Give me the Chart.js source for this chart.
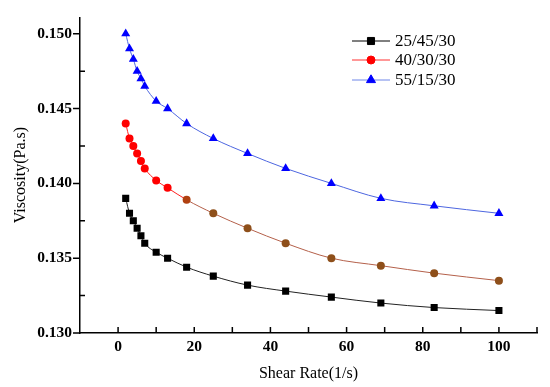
<!DOCTYPE html>
<html>
<head>
<meta charset="utf-8">
<script src="https://cdn.jsdelivr.net/npm/chart.js@4/dist/chart.umd.min.js"></script>
<style>
html,body{margin:0;padding:0;background:#fff;}
#wrap{width:550px;height:387px;}
</style>
</head>
<body>
<div id="wrap"><canvas id="c" width="550" height="387"></canvas></div>
<script>
const shearRate = [2, 3, 4, 5, 6, 7, 10, 13, 18, 25, 34, 44, 56, 69, 83, 100];
const visc_25_45_30 = [0.1390, 0.1380, 0.1375, 0.1370, 0.1365, 0.1360, 0.1354, 0.1350, 0.1344, 0.1338, 0.1332, 0.1328, 0.1324, 0.1320, 0.1317, 0.1315];
const visc_40_30_30 = [0.1440, 0.1430, 0.1425, 0.1420, 0.1415, 0.1410, 0.1402, 0.1397, 0.1389, 0.1380, 0.1370, 0.1360, 0.1350, 0.1345, 0.1340, 0.1335];
const visc_55_15_30 = [0.1500, 0.1490, 0.1483, 0.1475, 0.1470, 0.1465, 0.1455, 0.1450, 0.1440, 0.1430, 0.1420, 0.1410, 0.1400, 0.1390, 0.1385, 0.1380];
const seriesNames = ['25/45/30', '40/30/30', '55/15/30'];
const xMajorTicks = [0, 20, 40, 60, 80, 100];
const xMinorTicks = [10, 30, 50, 70, 90, 110];
const yMajorTicks = [0.130, 0.135, 0.140, 0.145, 0.150];
const yMinorTicks = [0.1325, 0.1375, 0.1425, 0.1475];

const serif = "'Liberation Serif', 'Times New Roman', serif";
const toXY = (ys) => shearRate.map((x, i) => ({x: x, y: ys[i]}));

const redPointColors = shearRate.map((x) => x <= 13 ? '#ff0000' : (x === 18 ? '#b04010' : '#8e4f1a'));

const axisTicks = {
  id: 'axisTicks',
  afterDraw(chart) {
    const ctx = chart.ctx;
    const xs = chart.scales.x, ys = chart.scales.y;
    const area = chart.chartArea;
    ctx.save();
    ctx.strokeStyle = '#000';
    ctx.lineWidth = 1.5;
    ctx.beginPath();
    xMajorTicks.concat(xMinorTicks).forEach(v => {
      const px = xs.getPixelForValue(v);
      if (px > area.left + 2 && px <= area.right + 1) {
        ctx.moveTo(px, area.bottom);
        ctx.lineTo(px, area.bottom - 6);
      }
    });
    yMajorTicks.forEach(v => {
      const py = ys.getPixelForValue(v);
      ctx.moveTo(area.left, py);
      ctx.lineTo(area.left - 7, py);
    });
    yMinorTicks.forEach(v => {
      const py = ys.getPixelForValue(v);
      ctx.moveTo(area.left, py);
      ctx.lineTo(area.left + 5, py);
    });
    ctx.stroke();

    // legend
    const rows = [41, 60, 80];
    chart.data.datasets.forEach((ds, i) => {
      const y = rows[i];
      ctx.strokeStyle = ds.legendLine;
      ctx.lineWidth = 1;
      ctx.beginPath();
      ctx.moveTo(352, y);
      ctx.lineTo(390, y);
      ctx.stroke();
      ctx.fillStyle = ds.legendMarker;
      ctx.strokeStyle = ds.legendMarker;
      Chart.helpers.drawPoint(ctx, {pointStyle: ds.pointStyle, radius: ds.pointRadius, borderWidth: 1, rotation: 0}, 371, y);
      ctx.fillStyle = '#000';
      ctx.font = "17px " + serif;
      ctx.textBaseline = 'middle';
      ctx.textAlign = 'left';
      ctx.fillText(ds.label, 395, y + 1);
    });
    ctx.restore();
  }
};

new Chart(document.getElementById('c'), {
  type: 'line',
  data: {
    datasets: [
      {
        label: seriesNames[0],
        data: toXY(visc_25_45_30),
        borderColor: '#222222',
        borderWidth: 1,
        backgroundColor: '#000',
        pointBackgroundColor: '#000',
        pointBorderColor: '#000',
        pointStyle: 'rect',
        pointRadius: 5,
        pointBorderWidth: 0,
        cubicInterpolationMode: 'monotone',
        legendLine: '#000', legendMarker: '#000'
      },
      {
        label: seriesNames[1],
        data: toXY(visc_40_30_30),
        borderColor: '#ff2020',
        borderWidth: 1,
        segment: {
          borderColor: (c) => c.p0DataIndex >= 8 ? '#b4604a' : '#ff2020'
        },
        pointBackgroundColor: redPointColors,
        pointBorderColor: redPointColors,
        pointStyle: 'circle',
        pointRadius: 4,
        pointBorderWidth: 0,
        cubicInterpolationMode: 'monotone',
        legendLine: '#ff3030', legendMarker: '#ff0000'
      },
      {
        label: seriesNames[2],
        data: toXY(visc_55_15_30),
        borderColor: '#4d66e0',
        borderWidth: 1,
        pointBackgroundColor: '#0000ff',
        pointBorderColor: '#0000ff',
        pointStyle: 'triangle',
        pointRadius: 5.2,
        pointBorderWidth: 0,
        cubicInterpolationMode: 'monotone',
        legendLine: '#6f86e8', legendMarker: '#0000ff'
      }
    ]
  },
  options: {
    responsive: false,
    animation: false,
    devicePixelRatio: 1,
    layout: {padding: {left: 0, right: 13, top: 17, bottom: 0}},
    plugins: {legend: {display: false}, tooltip: {enabled: false}},
    scales: {
      x: {
        type: 'linear',
        min: -10, max: 110,
        afterBuildTicks: (s) => { s.ticks = xMajorTicks.map(v => ({value: v})); },
        afterFit: (s) => { s.height = 54; },
        grid: {display: false, drawTicks: false},
        border: {display: true, color: '#000', width: 1.5},
        ticks: {
          padding: 5,
          color: '#000',
          font: {family: serif, size: 15.5, weight: 'bold'},
          maxRotation: 0
        },
        title: {
          display: true, text: 'Shear Rate(1/s)', color: '#000',
          font: {family: serif, size: 16},
          padding: {top: 0, bottom: 4}
        }
      },
      y: {
        type: 'linear',
        min: 0.130, max: 0.1511,
        afterBuildTicks: (s) => { s.ticks = yMajorTicks.map(v => ({value: v})); },
        afterFit: (s) => { s.width = 80; },
        grid: {display: false, drawTicks: false},
        border: {display: true, color: '#000', width: 1.5},
        ticks: {
          padding: 8,
          color: '#000',
          font: {family: serif, size: 15.5, weight: 'bold'},
          callback: (v) => Number(v).toFixed(3)
        },
        title: {
          display: true, text: 'Viscosity(Pa.s)', color: '#000',
          font: {family: serif, size: 16},
          padding: {top: 11, bottom: 0}
        }
      }
    }
  },
  plugins: [axisTicks]
});
</script>
</body>
</html>
